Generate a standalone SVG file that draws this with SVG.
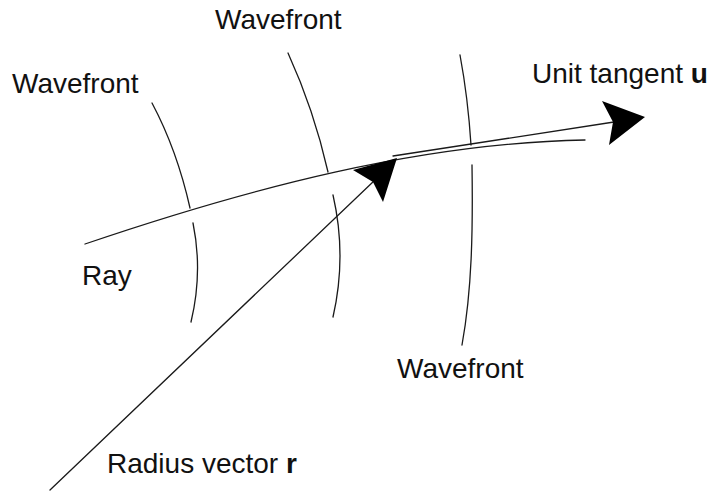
<svg xmlns="http://www.w3.org/2000/svg" width="710" height="492" viewBox="0 0 710 492">
<style>
.t{font-family:"Liberation Sans",Arial,sans-serif;font-size:28px;fill:#111}
.b{font-weight:bold}
.l{fill:none;stroke:#1a1a1a;stroke-width:1.3;stroke-linecap:round}
.h{fill:#000;stroke:none}
</style>
<rect width="710" height="492" fill="#fff"/>
<g id="wavefront1">
<path class="l" d="M152,103 Q177,150 190,208"/>
<path class="l" d="M193,223 Q203,272 191,322"/>
<text class="t" x="12" y="93">Wavefront</text>
</g>
<g id="wavefront2">
<path class="l" d="M288,53 Q314,110 328,172"/>
<path class="l" d="M333,195 Q347,256 333,317"/>
<text class="t" x="215" y="29">Wavefront</text>
</g>
<g id="wavefront3">
<path class="l" d="M460,55 Q468,98 471,145"/>
<path class="l" d="M472,165 C473,230 472,290 462,345"/>
<text class="t" x="397" y="378">Wavefront</text>
</g>
<g id="ray">
<path class="l" d="M85,244 C250,188 420,143 585,140"/>
<text class="t" x="82" y="285">Ray</text>
</g>
<g id="connectors">
<g id="tangent">
<path class="l" d="M393,156 L614,122"/>
<polygon class="h" points="645,117 602,101 613,122 609,145"/>
</g>
<g id="radius">
<path class="l" d="M50,490 L375,180"/>
<polygon class="h" points="397,158 353,170 373,182 383,202"/>
</g>
</g>
<g id="labels">
<text class="t" x="532" y="83">Unit tangent <tspan class="b">u</tspan></text>
<text class="t" x="107" y="473">Radius vector <tspan class="b">r</tspan></text>
</g>
</svg>
